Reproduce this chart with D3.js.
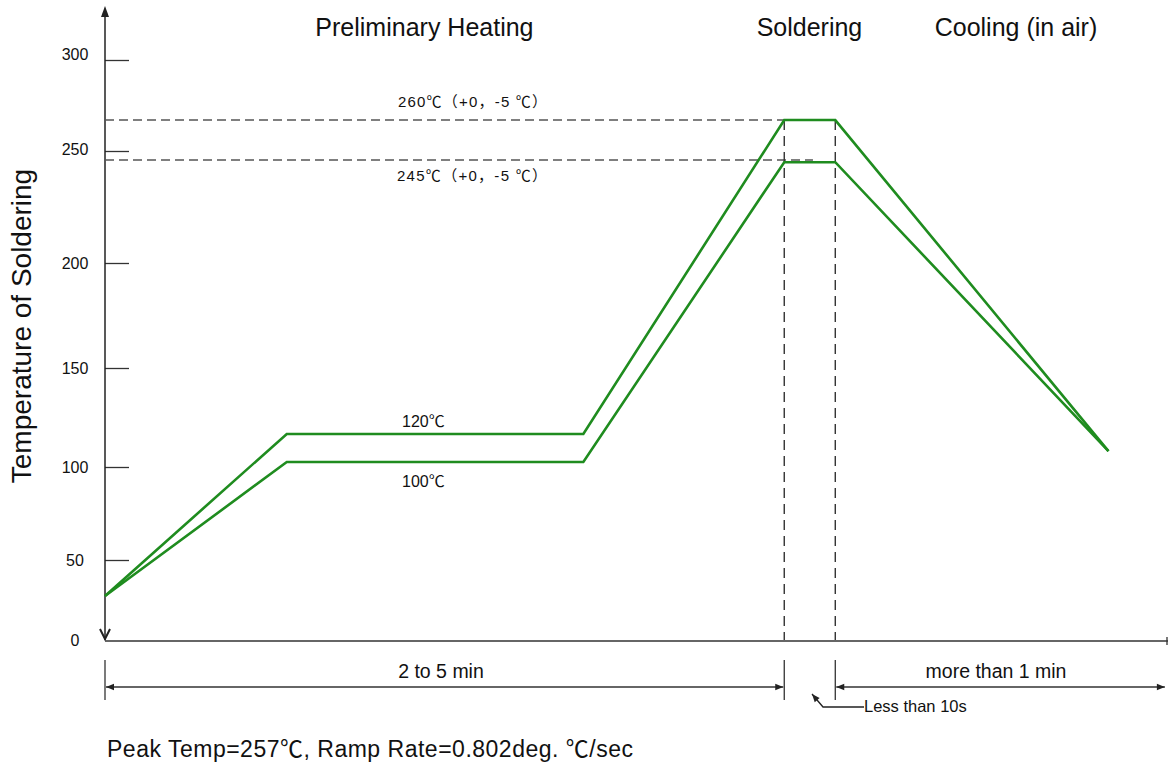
<!DOCTYPE html>
<html>
<head>
<meta charset="utf-8">
<script src="https://cdn.jsdelivr.net/npm/d3@7"></script>
<style>
  html, body { margin: 0; padding: 0; background: #fff; }
  svg { display: block; }
  text { font-family: "Liberation Sans", Arial, "Noto Sans CJK SC", sans-serif; fill: #111; }
  .cjk { font-family: "Noto Sans CJK SC", sans-serif; }
</style>
</head>
<body>
<div id="chart"></div>
<script>
// ---- Data ----
const yTicks = [0, 50, 100, 150, 200, 250, 300];
// time position along the profile (percent of the drawn timeline)
const timePoints = [0, 17.1, 45.0, 63.9, 68.7, 94.4];
const upperTemps = [27.5, 116.7, 116.7, 267, 267, 108];
const lowerTemps = [27.5, 102.5, 102.5, 245, 245, 108];
const refLevels = [267, 246];           // dashed reference levels
const refLabels = ["260℃（+0，-5 ℃）", "245℃（+0，-5 ℃）"];
const plateauLabels = ["120℃", "100℃"];
const phaseNames = ["Preliminary Heating", "Soldering", "Cooling (in air)"];
const phaseCenters = [30.05, 66.27, 85.7];
const solderStart = 63.9, solderEnd = 68.7, timeEnd = 99.8;
const spanLabels = ["2 to 5 min", "more than 1 min"];
const yTitle = "Temperature of Soldering";
const footnote = "Peak Temp=257℃, Ramp Rate=0.802deg. ℃/sec";

// ---- Layout ----
const W = 1168, H = 764;
const svg = d3.select("#chart").append("svg").attr("width", W).attr("height", H);

const x = d3.scaleLinear().domain([0, 100]).range([105, 1168]);
// the drawing's temperature axis is not evenly spaced
const y = d3.scaleLinear().domain(yTicks).range([640, 560, 467, 368, 263, 151, 60]);

const axisColor = "#222";
const green = "#1f8c1f";

// helper: write text, putting ℃ and full-width punctuation in a CJK font
function mixedText(sel, str) {
  const parts = str.match(/[℃（），]+|[^℃（），]+/g);
  parts.forEach(p => {
    const t = sel.append("tspan").text(p);
    if (/[℃（），]/.test(p)) t.attr("class", "cjk");
  });
  return sel;
}

// defs: arrowheads
const defs = svg.append("defs");
defs.append("marker").attr("id", "arr").attr("viewBox", "0 0 10 10")
  .attr("refX", 10).attr("refY", 5).attr("markerWidth", 10).attr("markerHeight", 8)
  .attr("markerUnits", "userSpaceOnUse").attr("orient", "auto-start-reverse")
  .append("path").attr("d", "M0,1 L10,5 L0,9 Z").attr("fill", "#222");

// y axis ticks to the right of the line
const yAxis = d3.axisRight(y).tickValues(yTicks.filter(d => d > 0)).tickSize(24).tickFormat("");
const gy = svg.append("g").attr("transform", `translate(${x(0)},0)`).call(yAxis);
gy.select(".domain").remove();
gy.selectAll(".tick line").attr("stroke", "#333").attr("stroke-width", 1.3);

svg.append("line").attr("x1", x(0)).attr("x2", x(0)).attr("y1", 14).attr("y2", y(0))
  .attr("stroke", axisColor).attr("stroke-width", 1.5);
svg.append("path").attr("d", `M${x(0)},6 L${x(0) - 4},17 L${x(0) + 4},17 Z`).attr("fill", axisColor);
svg.append("path").attr("d", `M${x(0) - 5},629 L${x(0)},${y(0) - 1} L${x(0) + 5},629`)
  .attr("fill", "none").attr("stroke", axisColor).attr("stroke-width", 2);

// tick labels
svg.append("g").selectAll("text").data(yTicks).join("text")
  .attr("x", 75).attr("y", d => y(d) + (d === 300 ? 0 : d === 250 ? 4 : 6)).attr("text-anchor", "middle")
  .attr("font-size", 16).attr("fill", "#222").text(d => d);

// x axis
svg.append("line").attr("x1", x(0)).attr("x2", x(100)).attr("y1", y(0) + 1).attr("y2", y(0) + 1)
  .attr("stroke", "#333").attr("stroke-width", 1.3);
svg.append("line").attr("x1", x(100) - 1).attr("x2", x(100) - 1).attr("y1", y(0) - 3).attr("y2", y(0) + 5)
  .attr("stroke", "#333").attr("stroke-width", 1.3);

// y title
svg.append("text").attr("transform", `translate(31,326) rotate(-90)`)
  .attr("text-anchor", "middle").attr("font-size", 28).attr("fill", "#111").text(yTitle);

// phase headings
svg.append("g").selectAll("text").data(phaseNames).join("text")
  .attr("x", (d, i) => x(phaseCenters[i])).attr("y", 36).attr("text-anchor", "middle")
  .attr("font-size", 25).attr("fill", "#111").text(d => d);

// dashed reference lines
const dashEnds = [solderStart, solderStart + 2.7];
svg.append("g").selectAll("line").data(refLevels).join("line")
  .attr("x1", x(0)).attr("x2", (d, i) => x(dashEnds[i]))
  .attr("y1", d => y(d)).attr("y2", d => y(d))
  .attr("stroke", "#555").attr("stroke-width", 1.4).attr("stroke-dasharray", "9,5");

// vertical dashed lines at the soldering window
svg.append("g").selectAll("line").data([solderStart, solderEnd]).join("line")
  .attr("x1", d => x(d)).attr("x2", d => x(d))
  .attr("y1", y(267)).attr("y2", y(0))
  .attr("stroke", "#333").attr("stroke-width", 1.4).attr("stroke-dasharray", "10,6");

// profile lines
const line = d3.line().x(d => x(d[0])).y(d => y(d[1]));
[upperTemps, lowerTemps].forEach(temps => {
  svg.append("path").datum(timePoints.map((t, i) => [t, temps[i]]))
    .attr("d", line).attr("fill", "none").attr("stroke", green)
    .attr("stroke-width", 2.6).attr("stroke-linejoin", "miter");
});

// reference labels
mixedText(svg.append("text").attr("x", 398).attr("y", y(refLevels[0]) - 13).attr("font-size", 15)
  .attr("textLength", 149).attr("lengthAdjust", "spacing").attr("fill", "#222"), refLabels[0]);
mixedText(svg.append("text").attr("x", 397).attr("y", y(refLevels[1]) + 21).attr("font-size", 15)
  .attr("textLength", 150).attr("lengthAdjust", "spacing").attr("fill", "#222"), refLabels[1]);
mixedText(svg.append("text").attr("x", 402).attr("y", y(upperTemps[1]) - 7).attr("font-size", 16).attr("fill", "#222"), plateauLabels[0]);
mixedText(svg.append("text").attr("x", 402).attr("y", y(lowerTemps[1]) + 25).attr("font-size", 16).attr("fill", "#222"), plateauLabels[1]);

// dimension ticks below the axis
svg.append("g").selectAll("line").data([0, solderStart, solderEnd]).join("line")
  .attr("x1", d => x(d)).attr("x2", d => x(d)).attr("y1", 660).attr("y2", 700)
  .attr("stroke", "#333").attr("stroke-width", 1.3);

// dimension arrows
const spans = [[0, solderStart], [solderEnd, timeEnd]];
svg.append("g").selectAll("line").data(spans).join("line")
  .attr("x1", d => x(d[0]) + 1).attr("x2", d => x(d[1]) - 1).attr("y1", 687).attr("y2", 687)
  .attr("stroke", "#333").attr("stroke-width", 1.3)
  .attr("marker-start", "url(#arr)").attr("marker-end", "url(#arr)");
svg.append("g").selectAll("text").data(spanLabels).join("text")
  .attr("x", (d, i) => i === 0 ? 441 : 996).attr("y", 678).attr("text-anchor", "middle")
  .attr("font-size", 19.5).attr("fill", "#111").text(d => d);

// "Less than 10s" leader
svg.append("path").attr("d", "M864,707 L823,707 L812,694").attr("fill", "none")
  .attr("stroke", "#222").attr("stroke-width", 1.3).attr("marker-end", "url(#arr)");
svg.append("text").attr("x", 864).attr("y", 712).attr("font-size", 16.5)
  .attr("fill", "#111").text("Less than 10s");

// footnote
mixedText(svg.append("text").attr("x", 107).attr("y", 757).attr("font-size", 23)
  .attr("textLength", 526).attr("lengthAdjust", "spacing").attr("fill", "#111"), footnote);
</script>
</body>
</html>
